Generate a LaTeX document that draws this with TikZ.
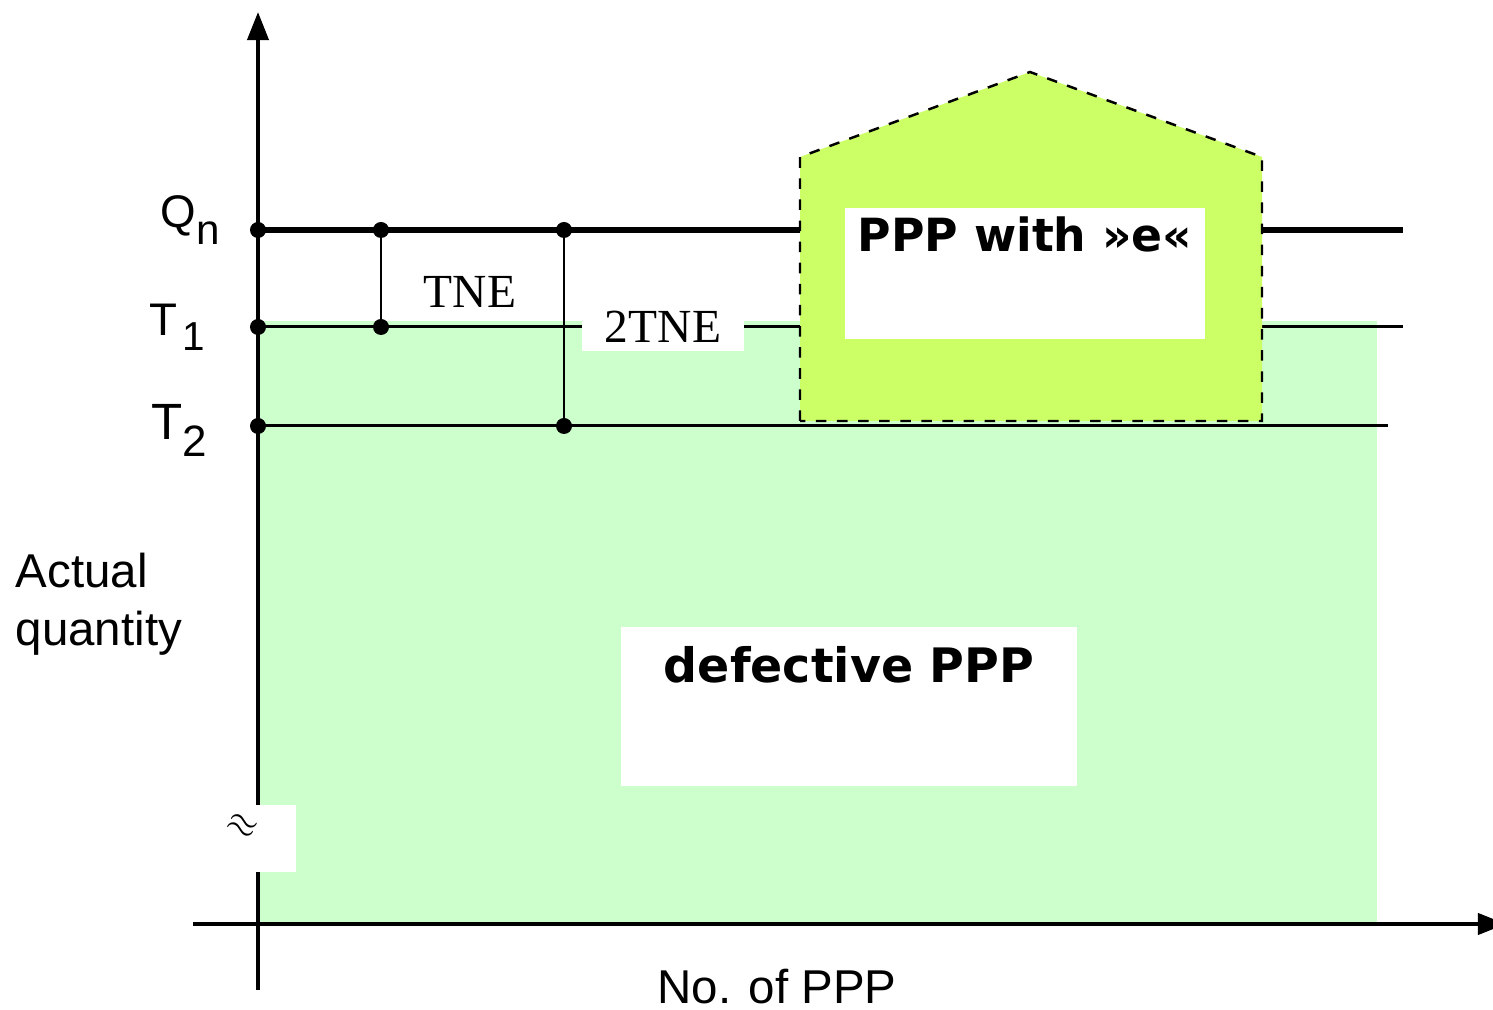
\documentclass[tikz,border=0pt]{standalone}
\usepackage{fontspec}
\setmainfont{Liberation Sans}
\newfontfamily\seriffont{Liberation Serif}
\newfontfamily\panelfont{DejaVu Sans}
\usetikzlibrary{positioning, arrows.meta, calc}

\definecolor{areaGreen}{HTML}{CCFFCC}
\definecolor{houseGreen}{HTML}{CCFF66}

\begin{document}
\begin{tikzpicture}[
    x=0.01cm, y=-0.01cm,
    % Style definitions
    axis/.style={
        line width=1.1pt, -{Triangle[length=8pt, width=6pt]}
    },
    nominal/.style={line width=1.45pt},
    level/.style={line width=0.85pt},
    link/.style={line width=0.6pt},
    dot/.style={
        circle, fill=black, inner sep=0pt, minimum size=0.16cm
    },
    levellabel/.style={
        font=\fontsize{13}{15}\selectfont, inner sep=0pt
    },
    tnelabel/.style={
        font=\seriffont\fontsize{13.5}{16}\selectfont
    },
    panel/.style={
        rectangle, fill=white, inner sep=0pt
    },
    paneltext/.style={
        font=\panelfont\bfseries\fontsize{13}{15}\selectfont,
        inner sep=0pt
    },
    house/.style={
        draw=black, dashed, fill=houseGreen, line width=0.7pt
    },
]

\useasboundingbox (0,0) rectangle (1493,1010);

% Axis and level positions
\def\xAxis{258}
\def\yQ{230}
\def\yTone{327}
\def\yTtwo{426}
\def\yBase{924}

% === Area of actual quantities ===
\fill[areaGreen] (\xAxis,321) rectangle (1377,\yBase);

% === Level dots ===
\node[dot] (q0) at (\xAxis,\yQ) {};
\node[dot] (t10) at (\xAxis,\yTone) {};
\node[dot] (t20) at (\xAxis,\yTtwo) {};
\node[dot] (q1) at (381,\yQ) {};
\node[dot] (t11) at (381,\yTone) {};
\node[dot] (q2) at (564,\yQ) {};
\node[dot] (t22) at (564,\yTtwo) {};

\coordinate (qEnd) at (1403,\yQ);
\coordinate (t1End) at (1403,\yTone);
\coordinate (t2End) at (1388,\yTtwo);

% === Level lines ===
\draw[nominal] (q0.center) -- (qEnd);
\draw[level] (t10.center) -- (t1End);
\draw[level] (t20.center) -- (t2End);
\draw[link] (q1.center) -- (t11.center);
\draw[link] (q2.center) -- (t22.center);

% === Axes ===
\coordinate (yBot) at (\xAxis,990);
\coordinate (yTop) at (\xAxis,12);
\coordinate (xLeft) at (193,\yBase);
\coordinate (xRight) at (1506,\yBase);
\draw[axis] (yBot) -- (yTop);
\draw[axis] (xLeft) -- (xRight);

% === Tolerance labels ===
\node[tnelabel] (tne) at (470,292) {TNE};
\node[panel, tnelabel, minimum width=1.62cm, minimum height=0.48cm]
    (tnetwo) at (663,327) {2TNE};

% === PPP with e (house) ===
\draw[house] (800,421) -- (800,157) -- (1030,72) -- (1262,157)
    -- (1262,421) -- cycle;
\node[panel, minimum width=3.6cm, minimum height=1.31cm, anchor=north]
    (eBox) at (1025,207) {};
\node[paneltext, anchor=north] (eText) at ([yshift=-0.09cm]eBox.north)
    {PPP with »e«};

% === Defective PPP ===
\node[panel, minimum width=4.56cm, minimum height=1.59cm, anchor=north]
    (defBox) at (849,626) {};
\node[paneltext, font=\panelfont\bfseries\fontsize{13.5}{16}\selectfont,
    anchor=north] (defText) at ([yshift=-0.2cm]defBox.north)
    {defective PPP};

% === Axis break ===
\node[panel, minimum width=0.41cm, minimum height=0.67cm]
    (breakBox) at (275.5,838.5) {};
\node[font=\fontsize{11}{13}\selectfont, rotate=-25, inner sep=0pt]
    (breakMark) at (242,826) {$\approx$};

% === Axis and level labels ===
\node[levellabel, anchor=base west] (qLabel) at (160,228)
    {Q\raisebox{-0.7ex}{\fontsize{12}{14}\selectfont n}};
\node[levellabel, font=\fontsize{13}{15}\selectfont, anchor=base west]
    (tOneLabel) at (149,336)
    {T\kern1.5pt\raisebox{-0.6ex}{\fontsize{11.5}{13}\selectfont 1}};
\node[levellabel, font=\fontsize{14.5}{16}\selectfont, anchor=base west]
    (tTwoLabel) at (151,440)
    {T\raisebox{-0.6ex}{\fontsize{12.5}{14}\selectfont 2}};
\node[levellabel, font=\fontsize{13.5}{16.5}\selectfont, align=left,
    anchor=north west] (yLabel) at (15,552) {Actual\\quantity};
\node[levellabel, font=\fontsize{13.5}{16}\selectfont, anchor=base]
    (xLabel) at (777,1004) {No. of PPP};

\end{tikzpicture}
\end{document}
